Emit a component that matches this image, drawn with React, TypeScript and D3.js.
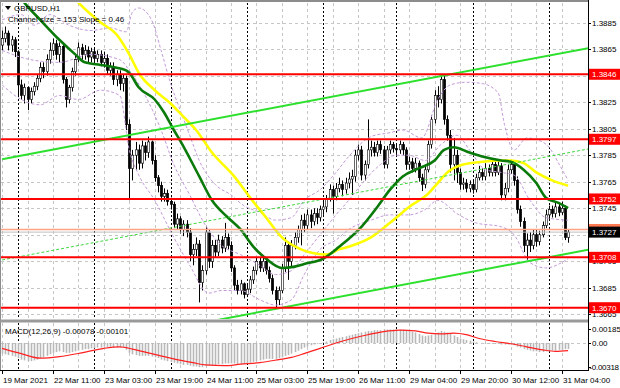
import { useEffect, useRef } from 'react';
import * as d3 from 'd3';

// hourly bars per trading day: 19 Mar (evening) .. 31 Mar (morning)
const barsPerDay = [5, 24, 24, 24, 24, 23, 24, 24, 7];

// one label every 16 bars
const timeLabels = [
    '19 Mar 2021', '22 Mar 11:00', '23 Mar 03:00', '23 Mar 19:00', '24 Mar 11:00', '25 Mar 03:00',
    '25 Mar 19:00', '26 Mar 11:00', '29 Mar 04:00', '29 Mar 20:00', '30 Mar 12:00', '31 Mar 04:00',
];

const priceTicks = [1.3665, 1.3685, 1.3705, 1.3725, 1.3745, 1.3765, 1.3785, 1.3805, 1.3825, 1.3845, 1.3865, 1.3885];
const levels = [1.3846, 1.3797, 1.3752, 1.3708, 1.367];
const bidPrice = 1.3727;
const askPrice = 1.3729;

// GBPUSD H1 candles: open, high, low, close
const candles: [number, number, number, number][] = [
    [1.3868, 1.3879, 1.3864, 1.3873], [1.3873, 1.3882, 1.387, 1.3877], [1.3877, 1.3879, 1.3864, 1.3868], [1.3868, 1.3875, 1.3863, 1.3872], [1.3872, 1.3874, 1.3859, 1.3863],
    [1.3863, 1.3864, 1.383, 1.3838], [1.3838, 1.3842, 1.3827, 1.383], [1.383, 1.3839, 1.3824, 1.3836], [1.3836, 1.3837, 1.3819, 1.3827], [1.3827, 1.3836, 1.3824, 1.3833],
    [1.3833, 1.384, 1.383, 1.3837], [1.3837, 1.3846, 1.3834, 1.3843], [1.3843, 1.3855, 1.384, 1.3851], [1.3851, 1.3855, 1.3843, 1.3848], [1.3848, 1.3861, 1.3845, 1.3857],
    [1.3857, 1.387, 1.3854, 1.3864], [1.3864, 1.3873, 1.386, 1.3869], [1.3869, 1.3872, 1.3857, 1.3861], [1.3861, 1.387, 1.3855, 1.3867], [1.3867, 1.387, 1.3839, 1.3842],
    [1.3842, 1.3844, 1.3821, 1.3827], [1.3827, 1.3838, 1.3824, 1.3836], [1.3836, 1.3851, 1.3833, 1.3848], [1.3848, 1.386, 1.3845, 1.3857], [1.3857, 1.387, 1.3855, 1.3866],
    [1.3866, 1.3869, 1.3857, 1.3861], [1.3861, 1.3868, 1.3857, 1.3864], [1.3864, 1.3867, 1.3855, 1.3859], [1.3859, 1.3866, 1.3855, 1.3863], [1.3863, 1.3866, 1.3854, 1.3858],
    [1.3858, 1.3864, 1.3855, 1.3861], [1.3861, 1.3864, 1.3852, 1.3855], [1.3855, 1.3863, 1.3851, 1.3858], [1.3858, 1.3861, 1.3846, 1.3849], [1.3849, 1.3855, 1.3845, 1.3852],
    [1.3852, 1.3855, 1.3838, 1.3842], [1.3842, 1.3849, 1.3837, 1.3846], [1.3846, 1.3849, 1.3834, 1.3839], [1.3839, 1.3846, 1.3833, 1.3843], [1.3843, 1.3845, 1.3804, 1.3808],
    [1.3808, 1.3812, 1.3751, 1.3775], [1.3775, 1.3789, 1.3766, 1.3785], [1.3785, 1.3795, 1.3774, 1.3789], [1.3789, 1.3793, 1.3774, 1.3779], [1.3779, 1.3796, 1.3775, 1.3792],
    [1.3792, 1.3795, 1.3781, 1.3787], [1.3787, 1.3799, 1.3783, 1.3795], [1.3795, 1.3796, 1.3778, 1.3781], [1.3781, 1.3785, 1.3765, 1.3768], [1.3768, 1.377, 1.3757, 1.3762],
    [1.3762, 1.3765, 1.375, 1.3754], [1.3754, 1.376, 1.375, 1.3756], [1.3756, 1.3759, 1.3747, 1.375], [1.375, 1.3753, 1.3744, 1.3748], [1.3748, 1.375, 1.373, 1.3733],
    [1.3733, 1.3741, 1.3729, 1.3737], [1.3737, 1.3739, 1.3726, 1.3729], [1.3729, 1.3736, 1.3724, 1.3733], [1.3733, 1.3736, 1.3723, 1.3727], [1.3727, 1.373, 1.3705, 1.371],
    [1.371, 1.3718, 1.3702, 1.3714], [1.3714, 1.3723, 1.3709, 1.3718], [1.3718, 1.3721, 1.3674, 1.3689], [1.3689, 1.3702, 1.3683, 1.3698], [1.3698, 1.3731, 1.3695, 1.3727],
    [1.3727, 1.3729, 1.37, 1.3705], [1.3705, 1.3721, 1.37, 1.3717], [1.3717, 1.3721, 1.3708, 1.3712], [1.3712, 1.3725, 1.3709, 1.3721], [1.3721, 1.3724, 1.3711, 1.3715],
    [1.3715, 1.3734, 1.3712, 1.3723], [1.3723, 1.3726, 1.3714, 1.3717], [1.3717, 1.372, 1.3697, 1.37], [1.37, 1.3702, 1.3683, 1.3687], [1.3687, 1.3691, 1.368, 1.3683],
    [1.3683, 1.3691, 1.368, 1.3688], [1.3688, 1.3689, 1.3677, 1.368], [1.368, 1.3688, 1.3678, 1.3684], [1.3684, 1.3694, 1.3681, 1.3691], [1.3691, 1.3701, 1.3688, 1.3698],
    [1.3698, 1.3708, 1.3695, 1.3705], [1.3705, 1.3708, 1.3697, 1.37], [1.37, 1.3709, 1.3697, 1.3705], [1.3705, 1.3708, 1.3695, 1.3698], [1.3698, 1.3701, 1.3689, 1.3692],
    [1.3692, 1.3695, 1.368, 1.3683], [1.3683, 1.3686, 1.367, 1.3676], [1.3676, 1.3686, 1.3672, 1.3683], [1.3683, 1.3703, 1.3681, 1.37], [1.37, 1.3723, 1.3697, 1.3717],
    [1.3717, 1.372, 1.3691, 1.3705], [1.3705, 1.3721, 1.3701, 1.3717], [1.3717, 1.3727, 1.3714, 1.3723], [1.3723, 1.3732, 1.3719, 1.3729], [1.3729, 1.374, 1.3717, 1.3736],
    [1.3736, 1.3741, 1.3727, 1.3732], [1.3732, 1.3744, 1.3729, 1.374], [1.374, 1.3744, 1.373, 1.3735], [1.3735, 1.3745, 1.3732, 1.3741], [1.3741, 1.3745, 1.3733, 1.3738],
    [1.3738, 1.3747, 1.3735, 1.3744], [1.3744, 1.3751, 1.374, 1.3746], [1.3746, 1.3755, 1.3742, 1.3752], [1.3752, 1.3763, 1.375, 1.3759], [1.3759, 1.3762, 1.3741, 1.3754],
    [1.3754, 1.3764, 1.3751, 1.376], [1.376, 1.3768, 1.3757, 1.3763], [1.3763, 1.3766, 1.3754, 1.3759], [1.3759, 1.3768, 1.3756, 1.3764], [1.3764, 1.3772, 1.376, 1.3767],
    [1.3767, 1.3774, 1.3755, 1.3769], [1.3769, 1.3789, 1.3765, 1.3785], [1.3785, 1.3793, 1.3781, 1.3789], [1.3789, 1.3792, 1.3766, 1.377], [1.377, 1.3781, 1.3766, 1.3778],
    [1.3778, 1.3812, 1.3775, 1.3789], [1.3789, 1.3796, 1.3784, 1.3791], [1.3791, 1.3795, 1.3784, 1.3787], [1.3787, 1.3796, 1.3784, 1.3793], [1.3793, 1.3796, 1.3786, 1.3789],
    [1.3789, 1.3792, 1.3775, 1.3778], [1.3778, 1.3792, 1.3775, 1.3789], [1.3789, 1.3796, 1.3786, 1.3793], [1.3793, 1.3795, 1.3787, 1.379], [1.379, 1.3793, 1.3785, 1.3789],
    [1.3789, 1.3796, 1.3786, 1.3793], [1.3793, 1.3795, 1.3785, 1.3789], [1.3789, 1.3791, 1.3774, 1.3778], [1.3778, 1.3784, 1.3774, 1.378], [1.378, 1.3783, 1.3772, 1.3775],
    [1.3775, 1.3783, 1.3772, 1.3779], [1.3779, 1.3781, 1.3765, 1.3768], [1.3768, 1.3771, 1.3758, 1.3763], [1.3763, 1.3777, 1.376, 1.3774], [1.3774, 1.3796, 1.3772, 1.3793],
    [1.3793, 1.3815, 1.379, 1.3812], [1.3812, 1.3834, 1.3809, 1.383], [1.383, 1.3837, 1.3821, 1.3827], [1.3827, 1.3846, 1.3824, 1.3842], [1.3842, 1.3845, 1.3808, 1.3812],
    [1.3812, 1.3815, 1.3796, 1.38], [1.38, 1.3804, 1.3772, 1.3778], [1.3778, 1.3798, 1.3766, 1.3785], [1.3785, 1.3789, 1.3764, 1.3772], [1.3772, 1.3775, 1.3759, 1.3763],
    [1.3763, 1.3768, 1.3759, 1.3764], [1.3764, 1.3767, 1.3757, 1.376], [1.376, 1.3766, 1.3757, 1.3763], [1.3763, 1.3766, 1.3756, 1.3759], [1.3759, 1.3771, 1.3757, 1.3768],
    [1.3768, 1.3777, 1.3766, 1.3772], [1.3772, 1.3775, 1.3766, 1.3769], [1.3769, 1.3779, 1.3766, 1.3775], [1.3775, 1.3778, 1.3769, 1.3772], [1.3772, 1.3781, 1.3769, 1.3778],
    [1.3778, 1.3781, 1.3769, 1.3772], [1.3772, 1.3781, 1.377, 1.3777], [1.3777, 1.3779, 1.3751, 1.3755], [1.3755, 1.3764, 1.3751, 1.376], [1.376, 1.3778, 1.3757, 1.3774],
    [1.3774, 1.3781, 1.3771, 1.3778], [1.3778, 1.378, 1.3762, 1.3766], [1.3766, 1.3769, 1.3741, 1.3744], [1.3744, 1.3747, 1.3731, 1.3735], [1.3735, 1.3738, 1.3712, 1.3717],
    [1.3717, 1.3726, 1.3706, 1.3721], [1.3721, 1.3727, 1.3712, 1.3717], [1.3717, 1.3729, 1.3714, 1.3725], [1.3725, 1.3729, 1.3716, 1.372], [1.372, 1.3728, 1.3717, 1.3725],
    [1.3725, 1.3735, 1.3723, 1.3732], [1.3732, 1.3744, 1.373, 1.374], [1.374, 1.3747, 1.3737, 1.3744], [1.3744, 1.3747, 1.3738, 1.3741], [1.3741, 1.3749, 1.3738, 1.3746],
    [1.3746, 1.3749, 1.3739, 1.3742], [1.3742, 1.375, 1.374, 1.3745], [1.3745, 1.3747, 1.3721, 1.3723], [1.3723, 1.3729, 1.3719, 1.3727],
];

// moving averages: [bar index, price]
const maSlow: [number, number][] = [
    [18, 1.3917], [24, 1.39], [31, 1.3885], [36, 1.3876], [40, 1.3861], [43, 1.3847], [48, 1.3834], [53, 1.3824],
    [57, 1.3814], [61, 1.3804], [66, 1.3787], [73, 1.3769], [78, 1.3753], [83, 1.3738], [88, 1.3723], [94, 1.3714],
    [98, 1.3711], [102, 1.371], [106, 1.3714], [109, 1.3716], [116, 1.3723], [122, 1.3734], [128, 1.3746], [134, 1.3756],
    [137, 1.3764], [140, 1.3772], [145, 1.3778], [151, 1.378], [157, 1.3781], [160, 1.3781], [164, 1.3779], [168, 1.3772],
    [173, 1.3766], [178, 1.3762],
];
const maFast: [number, number][] = [
    [4, 1.391], [7, 1.39], [12, 1.3887], [18, 1.3872], [23, 1.3861], [26, 1.3855], [31, 1.3853], [36, 1.3851],
    [39, 1.3849], [40, 1.3847], [43, 1.3836], [48, 1.3827], [51, 1.3817], [54, 1.3804], [56, 1.3796], [62, 1.3769],
    [66, 1.3751], [71, 1.3738], [75, 1.3729], [79, 1.3716], [83, 1.3707], [88, 1.37], [92, 1.3701], [95, 1.3703],
    [101, 1.3707], [106, 1.3716], [113, 1.3731], [118, 1.3746], [122, 1.3759], [126, 1.3769], [131, 1.3775], [136, 1.3781],
    [139, 1.3789], [142, 1.3791], [147, 1.3787], [151, 1.3784], [157, 1.3781], [160, 1.378], [164, 1.3774], [168, 1.3764],
    [171, 1.3753], [175, 1.3749], [178, 1.3745],
];

// bands (dashed violet)
const bandUpper: [number, number][] = [
    [0, 1.3887], [6, 1.3891], [10, 1.3883], [15, 1.3891], [21, 1.3883], [28, 1.3879], [34, 1.3881], [39, 1.3878],
    [41, 1.3893], [43, 1.3896], [47, 1.3887], [50, 1.3864], [53, 1.3839], [56, 1.3819], [59, 1.38], [62, 1.3781],
    [67, 1.3763], [72, 1.3755], [76, 1.3747], [81, 1.3742], [86, 1.3736], [91, 1.3738], [95, 1.3751], [100, 1.3759],
    [105, 1.3772], [109, 1.3784], [116, 1.3799], [122, 1.3802], [126, 1.3804], [132, 1.3798], [137, 1.3827], [141, 1.3838],
    [146, 1.384], [151, 1.3839], [156, 1.3832], [158, 1.3808], [161, 1.3789], [165, 1.3798], [169, 1.3796], [172, 1.3791],
    [175, 1.3779], [178, 1.3766],
];
const bandMiddle: [number, number][] = [
    [0, 1.3864], [9, 1.3857], [18, 1.3855], [28, 1.3861], [37, 1.3857], [40, 1.3849], [45, 1.383], [50, 1.3804],
    [54, 1.3778], [59, 1.3755], [64, 1.3732], [69, 1.3717], [75, 1.371], [81, 1.3702], [86, 1.3695], [91, 1.3698],
    [95, 1.371], [100, 1.3725], [105, 1.374], [109, 1.3751], [114, 1.3766], [119, 1.3778], [124, 1.3785], [128, 1.3785],
    [133, 1.3781], [138, 1.3793], [143, 1.38], [147, 1.3789], [152, 1.3774], [157, 1.3772], [161, 1.377], [166, 1.3751],
    [171, 1.3738], [178, 1.3736],
];
const bandLower: [number, number][] = [
    [0, 1.3838], [6, 1.3827], [12, 1.3823], [18, 1.383], [24, 1.3827], [31, 1.3834], [37, 1.383], [40, 1.3789],
    [43, 1.377], [48, 1.3751], [54, 1.3723], [59, 1.3702], [65, 1.3681], [69, 1.3683], [75, 1.3683], [81, 1.3676],
    [86, 1.3672], [91, 1.3676], [95, 1.3695], [100, 1.3714], [105, 1.3721], [109, 1.3729], [116, 1.3736], [122, 1.374],
    [128, 1.374], [133, 1.3744], [137, 1.3751], [143, 1.3741], [149, 1.3734], [157, 1.3731], [161, 1.3725], [166, 1.3704],
    [171, 1.37], [178, 1.3707],
];

// regression channel end points
const channelUpper: [number, number][] = [[0, 1.3782], [185, 1.3866]];
const channelMiddle: [number, number][] = [[0, 1.3706], [185, 1.379]];
const channelLower: [number, number][] = [[0, 1.363], [185, 1.3714]];

// MACD(12,26,9) main values, one per bar
const macdMain = [
    -0.0014, -0.0015, -0.0016, -0.0017, -0.0018, -0.002, -0.0022, -0.0023, -0.0024, -0.0024,
    -0.0023, -0.0022, -0.002, -0.0019, -0.0017, -0.0015, -0.0013, -0.0012, -0.0011, -0.0012,
    -0.0013, -0.0013, -0.0012, -0.0011, -0.001, -0.0009, -0.0008, -0.0008, -0.0007, -0.0007,
    -0.0006, -0.0006, -0.0005, -0.0005, -0.0005, -0.0006, -0.0006, -0.0006, -0.0006, -0.0009,
    -0.0013, -0.0015, -0.0016, -0.0017, -0.0017, -0.0017, -0.0017, -0.0018, -0.0019, -0.002,
    -0.0022, -0.0023, -0.0024, -0.0025, -0.0026, -0.0027, -0.0028, -0.0029, -0.0029, -0.003,
    -0.0031, -0.0031, -0.0032, -0.0032, -0.0031, -0.003, -0.003, -0.0029, -0.0028, -0.0028,
    -0.0027, -0.0027, -0.0027, -0.0027, -0.0028, -0.0028, -0.0028, -0.0027, -0.0026, -0.0025,
    -0.0024, -0.0023, -0.0022, -0.0021, -0.0021, -0.0021, -0.0021, -0.002, -0.0019, -0.0017,
    -0.0016, -0.0014, -0.0012, -0.001, -0.0008, -0.0006, -0.0005, -0.0003, -0.0002, -0.0001,
    0, 0.0001, 0.0002, 0.0004, 0.0005, 0.0006, 0.0007, 0.0008, 0.0009, 0.001,
    0.0011, 0.0012, 0.0013, 0.0014, 0.0015, 0.0016, 0.0016, 0.0017, 0.0017, 0.0017,
    0.0018, 0.0018, 0.0018, 0.0018, 0.0018, 0.0018, 0.0018, 0.0017, 0.0016, 0.0015,
    0.0014, 0.0012, 0.001, 0.0009, 0.001, 0.0011, 0.0013, 0.0014, 0.0016, 0.0015,
    0.0014, 0.0012, 0.001, 0.0008, 0.0006, 0.0005, 0.0004, 0.0003, 0.0002, 0.0001,
    0, 0, -0.0001, -0.0001, -0.0001, -0.0001, -0.0001, -0.0002, -0.0002, -0.0002,
    -0.0002, -0.0003, -0.0005, -0.0006, -0.0008, -0.0009, -0.001, -0.0011, -0.0011, -0.0012,
    -0.0012, -0.0011, -0.0011, -0.001, -0.001, -0.0009, -0.0009, -0.0008, -0.00078,
];
const macdSignal: [number, number][] = [
    [0, -0.0007], [6, -0.0014], [12, -0.002], [18, -0.0018], [25, -0.0013], [32, -0.0007], [37, -0.0005], [41, -0.0008],
    [45, -0.0012], [49, -0.0016], [55, -0.0022], [60, -0.0026], [64, -0.0029], [70, -0.003], [75, -0.0028], [81, -0.0026],
    [87, -0.0022], [91, -0.0019], [95, -0.0014], [100, -0.0007], [105, 0], [110, 0.0006], [115, 0.0011], [120, 0.0015],
    [125, 0.0017], [130, 0.0016], [134, 0.0013], [138, 0.0012], [142, 0.0013], [146, 0.0011], [150, 0.0006], [155, 0.0002],
    [160, -0.0001], [165, -0.0005], [170, -0.0009], [174, -0.0011], [178, -0.00101],
];
const macdTicks = [0.00185, 0, -0.00318];

const FONT = '"Liberation Sans", Arial, sans-serif';

export default function App() {
    const svgRef = useRef<SVGSVGElement>(null);

    useEffect(() => {
        const svg = d3.select(svgRef.current);
        svg.selectAll('*').remove();

        const left = 1, right = 588;
        const mainTop = 3, mainBottom = 319;
        const subTop = 323, subBottom = 370;

        const x = d3.scaleLinear().domain([0, candles.length - 1]).range([2.1, 568.1]);
        const y = d3.scaleLinear().domain([1.36615, 1.3902]).range([mainBottom, 0]);
        const ym = d3.scaleLinear().domain([-0.00357, 0.00265]).range([subBottom, subTop]);

        svg.append('rect').attr('width', 620).attr('height', 388).attr('fill', '#fff');

        const defs = svg.append('defs');
        defs.append('clipPath').attr('id', 'clip-main').append('rect')
            .attr('x', left).attr('y', mainTop).attr('width', right - left).attr('height', mainBottom - mainTop);
        defs.append('clipPath').attr('id', 'clip-sub').append('rect')
            .attr('x', left).attr('y', subTop).attr('width', right - left).attr('height', subBottom - subTop);

        // grid
        const grid = svg.append('g');
        const gridIdx = d3.range(0, candles.length, 8);
        [[mainTop, mainBottom], [subTop, subBottom]].forEach(([t, b]) => {
            grid.selectAll(null)
                .data(gridIdx)
                .enter()
                .append('line')
                .attr('x1', (d) => Math.round(x(d)) + 0.5)
                .attr('x2', (d) => Math.round(x(d)) + 0.5)
                .attr('y1', t)
                .attr('y2', b)
                .attr('stroke', '#c6c6c6')
                .attr('stroke-dasharray', '3,3');
        });
        grid.selectAll(null)
            .data(priceTicks)
            .enter()
            .append('line')
            .attr('x1', left)
            .attr('x2', right)
            .attr('y1', (d) => Math.round(y(d)) + 0.5)
            .attr('y2', (d) => Math.round(y(d)) + 0.5)
            .attr('stroke', '#c6c6c6')
            .attr('stroke-dasharray', '3,3');
        grid.append('line')
            .attr('x1', left).attr('x2', right)
            .attr('y1', Math.round(ym(0)) + 0.5).attr('y2', Math.round(ym(0)) + 0.5)
            .attr('stroke', '#c6c6c6').attr('stroke-dasharray', '3,3');

        // day separators
        const dayStarts = d3.cumsum(barsPerDay).slice(0, -1);
        [[mainTop, mainBottom], [subTop, subBottom]].forEach(([t, b]) => {
            grid.selectAll(null)
                .data(Array.from(dayStarts))
                .enter()
                .append('line')
                .attr('x1', (d) => Math.round(x(d)) + 0.5)
                .attr('x2', (d) => Math.round(x(d)) + 0.5)
                .attr('y1', t)
                .attr('y2', b)
                .attr('stroke', '#000')
                .attr('stroke-dasharray', '2,2');
        });

        const main = svg.append('g').attr('clip-path', 'url(#clip-main)');

        // candles
        const bars = main.selectAll('.bar').data(candles).enter().append('g').attr('class', 'bar');
        bars.append('line')
            .attr('x1', (d, i) => Math.round(x(i)) + 0.5)
            .attr('x2', (d, i) => Math.round(x(i)) + 0.5)
            .attr('y1', (d) => y(d[1]))
            .attr('y2', (d) => y(d[2]))
            .attr('stroke', '#000')
            .attr('stroke-width', 1);
        bars.append('rect')
            .attr('x', (d, i) => Math.round(x(i)) - 0.7)
            .attr('y', (d) => y(Math.max(d[0], d[3])))
            .attr('width', 2.4)
            .attr('height', (d) => Math.max(Math.abs(y(d[0]) - y(d[3])), 0.8))
            .attr('fill', (d) => (d[3] >= d[0] ? '#fff' : '#000'))
            .attr('stroke', '#000')
            .attr('stroke-width', 0.6);

        const line = d3.line<[number, number]>()
            .x((d) => x(d[0]))
            .y((d) => y(d[1]))
            .curve(d3.curveMonotoneX);

        // bands
        [bandUpper, bandMiddle, bandLower].forEach((band) => {
            main.append('path')
                .attr('d', line(band))
                .attr('fill', 'none')
                .attr('stroke', '#c49ada')
                .attr('stroke-width', 1)
                .attr('stroke-dasharray', '3,2');
        });

        // moving averages
        main.append('path').attr('d', line(maSlow)).attr('fill', 'none').attr('stroke', '#ffff00').attr('stroke-width', 2.6);
        main.append('path').attr('d', line(maFast)).attr('fill', 'none').attr('stroke', '#0a7a0a').attr('stroke-width', 2.6);

        // regression channel
        const straight = d3.line<[number, number]>().x((d) => x(d[0])).y((d) => y(d[1]));
        [channelUpper, channelLower].forEach((c) => {
            main.append('path').attr('d', straight(c)).attr('fill', 'none').attr('stroke', '#2de02d').attr('stroke-width', 2);
        });
        main.append('path').attr('d', straight(channelMiddle)).attr('fill', 'none')
            .attr('stroke', '#3fd83f').attr('stroke-width', 1).attr('stroke-dasharray', '3,2');

        // support / resistance levels
        main.selectAll('.level')
            .data(levels)
            .enter()
            .append('line')
            .attr('x1', left)
            .attr('x2', right)
            .attr('y1', (d) => y(d))
            .attr('y2', (d) => y(d))
            .attr('stroke', '#ff0000')
            .attr('stroke-width', 2);

        // bid / ask
        main.append('line').attr('x1', left).attr('x2', right).attr('y1', y(askPrice)).attr('y2', y(askPrice))
            .attr('stroke', '#ffa585').attr('stroke-width', 1.6);
        main.append('line').attr('x1', left).attr('x2', right).attr('y1', y(bidPrice)).attr('y2', y(bidPrice))
            .attr('stroke', '#c0c0c0').attr('stroke-width', 1);

        // MACD panel
        const sub = svg.append('g').attr('clip-path', 'url(#clip-sub)');
        sub.selectAll('.hist')
            .data(macdMain)
            .enter()
            .append('line')
            .attr('x1', (d, i) => Math.round(x(i)) + 0.5)
            .attr('x2', (d, i) => Math.round(x(i)) + 0.5)
            .attr('y1', ym(0))
            .attr('y2', (d) => ym(d))
            .attr('stroke', '#b8b8b8')
            .attr('stroke-width', 1.6);
        const sigLine = d3.line<[number, number]>().x((d) => x(d[0])).y((d) => ym(d[1])).curve(d3.curveMonotoneX);
        sub.append('path').attr('d', sigLine(macdSignal)).attr('fill', 'none').attr('stroke', '#ff2020').attr('stroke-width', 1.2);

        // frame
        const frame = svg.append('g');
        frame.append('rect').attr('x', 0).attr('y', 0).attr('width', right).attr('height', 2).attr('fill', '#8c8c8c');
        frame.append('line').attr('x1', 0.5).attr('x2', 0.5).attr('y1', 0).attr('y2', subBottom).attr('stroke', '#8c8c8c');
        frame.append('line').attr('x1', right + 0.5).attr('x2', right + 0.5).attr('y1', 0).attr('y2', subBottom + 1).attr('stroke', '#000');
        frame.append('rect').attr('x', 0).attr('y', mainBottom + 0.5).attr('width', right).attr('height', 3).attr('fill', '#9a9a9a');
        frame.append('line').attr('x1', 0).attr('x2', right).attr('y1', subBottom + 0.5).attr('y2', subBottom + 0.5).attr('stroke', '#000');

        // price axis (1.3725 and 1.3845 sit fully under the level tags, so they are not written)
        const axis = svg.append('g').style('font-family', FONT).style('font-size', '8px');
        axis.selectAll('.ptick')
            .data(priceTicks)
            .enter()
            .append('line')
            .attr('x1', right)
            .attr('x2', right + 3)
            .attr('y1', (d) => Math.round(y(d)) + 0.5)
            .attr('y2', (d) => Math.round(y(d)) + 0.5)
            .attr('stroke', '#000');
        const hidden = [1.3725, 1.3845];
        axis.selectAll('.plabel')
            .data(priceTicks.filter((d) => y(d) > 8 && y(d) < mainBottom && !hidden.includes(d)))
            .enter()
            .append('text')
            .attr('x', 592)
            .attr('y', (d) => y(d) + 3)
            .attr('fill', '#000')
            .text((d) => d.toFixed(4));

        const tag = (p: number, fill: string, color: string) => {
            const g = axis.append('g');
            g.append('rect').attr('x', right + 1).attr('y', y(p) - 5.5).attr('width', 620 - right).attr('height', 11).attr('fill', fill);
            g.append('text').attr('x', 592).attr('y', y(p) + 3).attr('fill', color).text(p.toFixed(4));
        };
        levels.forEach((p) => tag(p, '#ff0000', '#fff'));
        tag(askPrice, '#ff7a50', '#fff');
        tag(bidPrice, '#000', '#fff');

        // MACD axis
        axis.selectAll('.mlabel')
            .data(macdTicks)
            .enter()
            .append('text')
            .attr('x', (d) => (d < 0 ? 589.5 : 592))
            .attr('y', (d) => ym(d) + 3)
            .attr('fill', '#000')
            .attr('letter-spacing', (d) => (d < 0 ? '-0.3' : '0'))
            .text((d) => (d === 0 ? '0.00' : d.toFixed(5)));
        axis.selectAll('.mtick')
            .data(macdTicks)
            .enter()
            .append('line')
            .attr('x1', right)
            .attr('x2', right + 3)
            .attr('y1', (d) => Math.round(ym(d)) + 0.5)
            .attr('y2', (d) => Math.round(ym(d)) + 0.5)
            .attr('stroke', '#000');

        // time axis
        axis.selectAll('.tlabel')
            .data(timeLabels)
            .enter()
            .append('text')
            .attr('x', (d, i) => Math.round(x(i * 16)) + 1)
            .attr('y', 383)
            .attr('fill', '#000')
            .text((d) => d);
        axis.selectAll('.ttick')
            .data(timeLabels)
            .enter()
            .append('line')
            .attr('x1', (d, i) => Math.round(x(i * 16)) + 0.5)
            .attr('x2', (d, i) => Math.round(x(i * 16)) + 0.5)
            .attr('y1', subBottom)
            .attr('y2', subBottom + 4)
            .attr('stroke', '#000');

        // captions
        const cap = svg.append('g').style('font-family', FONT).style('font-size', '8px').attr('fill', '#000');
        cap.append('path').attr('d', 'M5,6 L11,6 L8,10 Z').attr('fill', '#000');
        cap.append('text').attr('x', 14).attr('y', 11).text('GBPUSD,H1');
        cap.append('text').attr('x', 8).attr('y', 22).text('Channel size = 153 Slope = 0.46');
        cap.append('text').attr('x', 5).attr('y', 334).text('MACD(12,26,9) -0.00078 -0.00101');
    }, []);

    return <svg ref={svgRef} width={620} height={388} style={{ position: 'absolute', left: 0, top: 0 }} />;
}
